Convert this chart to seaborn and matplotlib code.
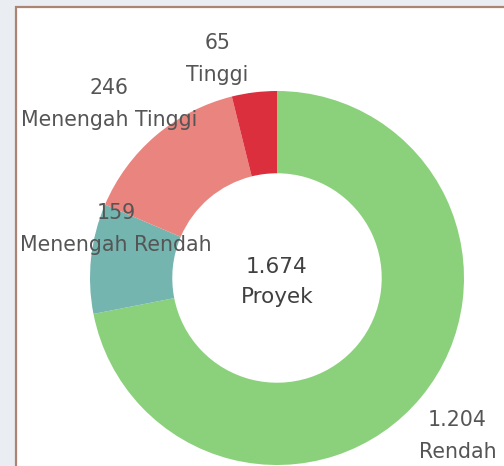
import matplotlib
matplotlib.use("Agg")
import matplotlib.pyplot as plt
import seaborn as sns
from matplotlib.patches import Rectangle

# data (clockwise from 12 o'clock)
categories = ["Rendah", "Menengah Rendah", "Menengah Tinggi", "Tinggi"]
values = [1204, 159, 246, 65]
colors = ["#8bd17c", "#74b5b0", "#e9847f", "#db2f3e"]
center_label = "Proyek"

# where each category label sits (data units, outer radius = 1)
label_pos = {
    "Rendah": (0.965, -0.845),
    "Menengah Rendah": (-0.86, 0.262),
    "Menengah Tinggi": (-0.90, 0.93),
    "Tinggi": (-0.32, 1.17),
}


def fmt(v):
    return f"{v:,}".replace(",", ".")


sns.set_theme(style="white")
plt.rcParams["font.family"] = ["DejaVu Sans"]

fig = plt.figure(figsize=(5.04, 4.66), dpi=100)
fig.patch.set_facecolor("#eaeef2")

# white panel with thin brown frame
fig.patches.append(Rectangle((16 / 504, -0.01), 1.0, 1 - 7 / 466 + 0.01,
                             transform=fig.transFigure, facecolor="white",
                             edgecolor="#ad8472", linewidth=1.6, zorder=-1))

ax = fig.add_axes([0, 0, 1, 1])
ax.set_facecolor("none")
ax.set_zorder(1)

ax.pie(values, colors=colors, startangle=90, counterclock=False,
       radius=1.0, wedgeprops=dict(width=0.44, edgecolor="none"))

txt_color = "#555555"
for cat, val in zip(categories, values):
    x, y = label_pos[cat]
    ax.text(x, y, fmt(val) + "\n" + cat, ha="center", va="center",
            fontsize=14.8, color=txt_color, linespacing=1.75)

ax.text(0, -0.02, fmt(sum(values)) + "\n" + center_label, ha="center", va="center",
        fontsize=15.5, color="#404040", linespacing=1.65)

ax.set_xlim(-277 / 187, (504 - 277) / 187)
ax.set_ylim((278 - 466) / 187, 278 / 187)
ax.set_aspect("auto")
ax.axis("off")

fig.savefig("out.png", dpi=100, facecolor=fig.get_facecolor())
